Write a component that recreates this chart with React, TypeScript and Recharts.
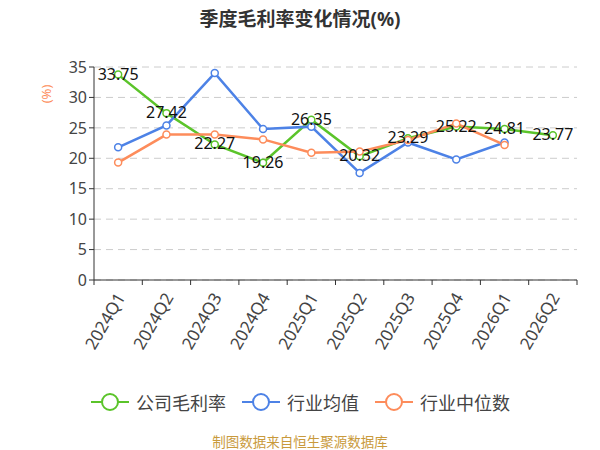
import React from 'react';
import {
  LineChart,
  Line,
  XAxis,
  YAxis,
  CartesianGrid,
  Legend,
  LabelList,
} from 'recharts';

const quarters = [
  '2024Q1', '2024Q2', '2024Q3', '2024Q4', '2025Q1',
  '2025Q2', '2025Q3', '2025Q4', '2026Q1', '2026Q2',
];
const companyMargin = [33.75, 27.42, 22.27, 19.26, 26.35, 20.32, 23.29, 25.22, 24.81, 23.77];
const industryMean = [21.8, 25.4, 34.0, 24.8, 25.2, 17.6, 22.6, 19.8, 22.6, null];
const industryMedian = [19.3, 23.9, 23.9, 23.1, 20.9, 21.1, 23.0, 25.7, 22.2, null];
const yTicks = [0, 5, 10, 15, 20, 25, 30, 35];

const GREEN = '#5bc42a';
const BLUE = '#4d82e6';
const ORANGE = '#fd8c5b';
const FONT = '"Noto Sans", "Noto Sans CJK SC", sans-serif';

const data = quarters.map((q, i) => ({
  quarter: q,
  company: companyMargin[i],
  mean: industryMean[i],
  median: industryMedian[i],
}));

const series = [
  { key: 'company', name: '公司毛利率', color: GREEN },
  { key: 'mean', name: '行业均值', color: BLUE },
  { key: 'median', name: '行业中位数', color: ORANGE },
];

const BAND = 48.3;

function QuarterTick(props: any) {
  const { x, y, payload, index } = props;
  const last = index === quarters.length - 1;
  return (
    <g>
      <line x1={x - BAND / 2} y1={y - 8} x2={x - BAND / 2} y2={y - 3} stroke="#333" />
      {last && (
        <line x1={x + BAND / 2} y1={y - 8} x2={x + BAND / 2} y2={y - 3} stroke="#333" />
      )}
      <text
        x={x + 2}
        y={y + 6}
        textAnchor="end"
        dominantBaseline="central"
        transform={`rotate(-60, ${x + 2}, ${y + 6})`}
        fontSize={17}
        fill="#444"
        fontFamily={FONT}
      >
        {payload.value}
      </text>
    </g>
  );
}

function ValueLabel(props: any) {
  const { x, y, value } = props;
  if (value == null) return null;
  return (
    <text
      x={x}
      y={y - 1}
      textAnchor="middle"
      dominantBaseline="central"
      fontSize={16}
      fill="#111"
      fontFamily={FONT}
    >
      {value.toFixed(2)}
    </text>
  );
}

function LegendRow() {
  return (
    <div style={{ position: 'relative', height: 24 }}>
      {series.map((s, i) => {
        const left = [91, 242, 375][i];
        return (
          <div
            key={s.key}
            style={{
              position: 'absolute',
              left,
              top: 0,
              display: 'flex',
              alignItems: 'center',
              height: 24,
            }}
          >
            <svg width={38} height={20}>
              <line x1={0} y1={10} x2={38} y2={10} stroke={s.color} strokeWidth={2} />
              <circle cx={19} cy={10} r={8} fill="#fff" stroke={s.color} strokeWidth={2} />
            </svg>
            <span style={{ marginLeft: 7, fontSize: 18, color: '#444', fontFamily: FONT }}>
              {s.name}
            </span>
          </div>
        );
      })}
    </div>
  );
}

export default function App() {
  return (
    <div
      style={{
        position: 'absolute',
        left: 0,
        top: 0,
        width: 600,
        height: 450,
        background: '#fff',
        fontFamily: FONT,
        overflow: 'hidden',
      }}
    >
      <div
        style={{
          position: 'absolute',
          top: 4,
          width: 600,
          textAlign: 'center',
          fontSize: 19,
          fontWeight: 'bold',
          color: '#333',
          fontFamily: FONT,
        }}
      >
        季度毛利率变化情况(%)
      </div>
      <div
        style={{
          position: 'absolute',
          left: 46,
          top: 94,
          transform: 'translate(-50%, -50%) rotate(-90deg)',
          fontSize: 13,
          color: ORANGE,
          fontFamily: FONT,
          whiteSpace: 'nowrap',
        }}
      >
        (%)
      </div>
      <LineChart
        width={600}
        height={450}
        data={data}
        margin={{ top: 67, right: 23, left: 0, bottom: 0 }}
      >
        <CartesianGrid
          vertical={false}
          strokeDasharray="7 5"
          stroke="#cccccc"
        />
        <XAxis
          dataKey="quarter"
          interval={0}
          height={80}
          tickLine={false}
          axisLine={{ stroke: '#333' }}
          tick={<QuarterTick />}
          padding={{ left: BAND / 2, right: BAND / 2 }}
        />
        <YAxis
          width={94}
          domain={[0, 35]}
          ticks={yTicks}
          interval={0}
          axisLine={{ stroke: '#333' }}
          tickLine={{ stroke: '#333' }}
          tickSize={5}
          tick={{ fontSize: 16, fill: '#444', fontFamily: FONT }}
        />
        <Legend
          verticalAlign="bottom"
          height={90}
          content={() => (
            <div style={{ position: 'relative', height: 90 }}>
              <div style={{ position: 'absolute', top: 30, left: 0, width: 600 }}>
                <LegendRow />
              </div>
            </div>
          )}
        />
        {series.map((s) => (
          <Line
            key={s.key}
            type="linear"
            dataKey={s.key}
            name={s.name}
            stroke={s.color}
            strokeWidth={2.5}
            dot={{ r: 3.5, fill: '#fff', stroke: s.color, strokeWidth: 1.5 }}
            isAnimationActive={false}
            connectNulls={false}
          >
            {s.key === 'company' && <LabelList dataKey="company" content={<ValueLabel />} />}
          </Line>
        ))}
      </LineChart>
      <div
        style={{
          position: 'absolute',
          top: 434,
          width: 600,
          textAlign: 'center',
          fontSize: 13.5,
          lineHeight: '16px',
          color: '#c99a3c',
          fontFamily: FONT,
        }}
      >
        制图数据来自恒生聚源数据库
      </div>
    </div>
  );
}
